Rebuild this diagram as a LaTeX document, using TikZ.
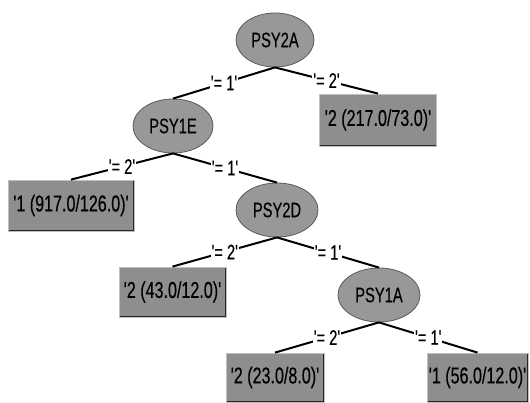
\documentclass[tikz,border=0pt]{standalone}
\usepackage{fontspec}
\setmainfont{Liberation Sans}
\newfontfamily\lab[FakeStretch=0.7,FakeBold=0.3]{Liberation Sans}
\usetikzlibrary{shapes.geometric}
\definecolor{boxfill}{RGB}{142,142,142}
\definecolor{ellfill}{RGB}{152,152,152}
\definecolor{ellline}{RGB}{90,90,90}
\tikzset{
  attr/.style={ellipse, fill=ellfill, draw=ellline, line width=0.8pt, inner sep=0pt,
    font=\lab\fontsize{21}{23}\selectfont},
  leaf/.style={rectangle, fill=boxfill, draw=black!25, line width=0.8pt, inner sep=0pt,
    font=\lab\fontsize{23}{25}\selectfont,
    path picture={\draw[line width=2pt,black!85]
      (path picture bounding box.south west) -- (path picture bounding box.south east)
      -- (path picture bounding box.north east);}},
  edge/.style={line width=2pt, black},
  elab/.style={fill=white, inner sep=1pt, font=\lab\fontsize{21}{23}\selectfont}
}
\begin{document}
\begin{tikzpicture}[x=1pt,y=-1pt]
\useasboundingbox (0,0) rectangle (530,403);
\node[attr, minimum width=78pt, minimum height=54pt] (A) at (275,40) {PSY2A};
\node[leaf, minimum width=117pt, minimum height=52pt] (B) at (378,120) {'2 (217.0/73.0)'};
\node[attr, minimum width=80pt, minimum height=54pt] (E) at (173,126) {PSY1E};
\node[leaf, minimum width=126pt, minimum height=51pt] (C) at (71,205.5) {'1 (917.0/126.0)'};
\node[attr, minimum width=82pt, minimum height=54pt] (D) at (277,210) {PSY2D};
\node[leaf, minimum width=107pt, minimum height=50pt] (F) at (172.5,292) {'2 (43.0/12.0)'};
\node[attr, minimum width=82pt, minimum height=54pt] (G) at (379,295) {PSY1A};
\node[leaf, minimum width=98pt, minimum height=49pt] (H) at (275,377.5) {'2 (23.0/8.0)'};
\node[leaf, minimum width=101pt, minimum height=49pt] (I) at (477.5,377.5) {'1 (56.0/12.0)'};

\draw[edge] (A.south) -- node[elab] {'= 1'} (E.north);
\draw[edge] (A.south) -- node[elab] {'= 2'} (B.north);
\draw[edge] (E.south) -- node[elab] {'= 2'} (C.north);
\draw[edge] (E.south) -- node[elab] {'= 1'} (D.north);
\draw[edge] (D.south) -- node[elab] {'= 2'} (F.north);
\draw[edge] (D.south) -- node[elab] {'= 1'} (G.north);
\draw[edge] (G.south) -- node[elab] {'= 2'} (H.north);
\draw[edge] (G.south) -- node[elab] {'= 1'} (I.north);
\end{tikzpicture}
\end{document}
